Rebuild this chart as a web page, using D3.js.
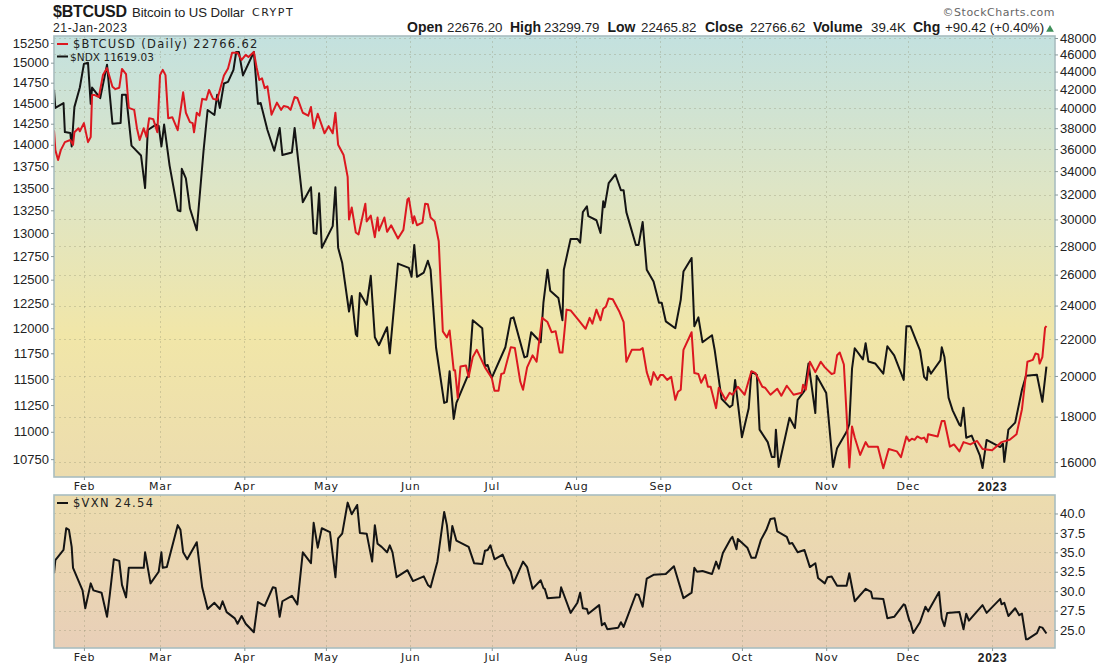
<!DOCTYPE html>
<html><head><meta charset="utf-8">
<script src="https://cdn.jsdelivr.net/npm/d3@7/dist/d3.min.js"></script>
<style>html,body{margin:0;padding:0;background:#fff}svg{display:block}</style>
</head><body>
<svg id="c" width="1105" height="671"></svg>
<script>
const startDate = "2022-01-21";
const monthTicks = ["2022-02-01","2022-03-01","2022-04-01","2022-05-01","2022-06-01","2022-07-01","2022-08-01","2022-09-01","2022-10-01","2022-11-01","2022-12-01","2023-01-01"];
const monthLabels = ["Feb","Mar","Apr","May","Jun","Jul","Aug","Sep","Oct","Nov","Dec","2023"];
const ndxTicks = [15250,15000,14750,14500,14250,14000,13750,13500,13250,13000,12750,12500,12250,12000,11750,11500,11250,11000,10750];
const btcTicks = [48000,46000,44000,42000,40000,38000,36000,34000,32000,30000,28000,26000,24000,22000,20000,18000,16000];
const vxnTicks = [40,37.5,35,32.5,30,27.5,25];

// days since 21 Jan 2022 and closing values
const ndxDay = [0,.5,3.5,4,6,6.5,7.5,9.5,11,12.5,13.5,14,17,19.5,21.5,24.5,25,26.5,28.5,32,33.5,34.5,37.5,38.5,39.5,40.5,42.5,45.5,46.5,47,48.5,50,52.5,55,56.5,59,60,61,62.5,64,66,67,68,69.5,73.5,75,76,78.5,81,83,84,87.5,88.5,91.5,94.5,95.5,96.5,97.5,98.5,102.5,103.5,104.5,106,108.5,109.5,111,111.5,112.5,115,116.5,118,119.5,122.5,123.5,126.5,130.5,131.5,132.5,133.5,136,137.5,138.5,140.5,143.5,144.5,145.5,147,148,152,152.5,154,157.5,158.5,159.5,161,166,168,169,173,174,175.5,179,180,181.5,182.5,185.5,187,187.5,190,192.5,193.5,194.5,196,196.5,199.5,201,202,202.5,204,206.5,208.5,209.5,210.5,214,215,216.5,218,220.5,222.5,223.5,225,228.5,230.5,231.5,234.5,235.5,237,238.5,242,243,245.5,248.5,249.5,250.5,253,255.5,256.5,258.5,259.5,262.5,264,265,265.5,266.5,270.5,272.5,273.5,276,277.5,280,280.5,284,284.5,286.5,288,291.5,292.5,293.5,294.5,297.5,298.5,299.5,302,305,306.5,309,312.5,313.5,315,318.5,320,321,321.5,322.5,326,326.5,327.5,329,330.5,333,333.5,334.5,335.5,337.5,340.5,341.5,343,348,349,349.5,351,353.5,356,357.5,361.5,363.5,365];
const ndxClose = [14662,14440,14500,14150,14140,13980,14450,14690,14985,15000,14490,14690,14560,14975,14250,14260,14600,14600,13990,13875,13500,14175,14240,14225,13980,14240,13760,13250,13240,13720,13610,13270,13030,13930,14415,14355,14600,14440,14740,14760,14910,15135,15135,14840,15135,14490,14500,14175,13930,14200,13880,13910,14200,13340,13510,13000,12990,13440,12840,13075,13510,12840,12675,12170,12330,11940,11920,12360,12240,12540,11910,11830,12010,11750,12670,12625,12530,12870,12530,12575,12700,12605,11810,11270,11280,11575,11120,11270,11520,11520,12080,12000,11625,11635,11510,11810,12100,12110,11710,11720,11960,11860,12260,12605,12385,12310,12080,12605,12935,12935,12895,13230,13295,13185,13140,13000,13350,13285,13555,13655,13475,13475,13230,12870,12870,13120,12605,12480,12260,12260,12070,12000,12290,12585,12730,12020,12110,11860,11930,11780,11310,11230,11250,11490,10950,11220,11570,11540,11020,10905,10770,10770,11020,10680,11130,11035,11300,11385,11650,11175,11530,11365,11230,10680,10850,11000,11070,11600,11800,11690,11850,11670,11650,11550,11820,11730,11490,12020,12020,11780,11520,11490,11615,11550,11680,11810,11710,11320,11200,11065,11055,11225,10945,10965,10785,10670,10925,10860,10890,10725,11020,11085,11395,11530,11540,11280,11619.03];

const btcDay = [0,.5,1.5,2.5,4,6,7,7.5,9,9.5,11,12.5,13.5,14,15,16.5,18,19.5,21.5,22.5,24,25,26.5,27.5,29.5,30.5,31.5,33,34,35,36.5,38,39,40,41,42,43.5,45.5,47.5,48.5,50,51,51.5,52.5,53.5,54.5,56,57,58.5,60,61,62.5,64,65.5,67.5,69,70.5,71.5,73.5,74.5,75.5,76.5,77.5,78.5,80,82,83.5,84.5,86,87,88.5,89.5,91.5,93.5,94.5,95.5,97,99.5,101,102.5,103.5,104.5,106.5,108,108.5,109.5,111,112,114.5,115,116.5,118,119,119.5,121.5,122.5,124,126.5,128.5,130,130.5,132,132.5,133.5,135.5,136.5,137.5,138.5,140,141.5,143,144.5,145.5,147,147.5,148.5,149.5,151.5,152.5,154,155.5,158.5,161,162,163.5,164.5,165.5,168,169.5,171.5,172.5,174,176,177.5,179.5,181.5,183,184.5,186,187,188.5,190,193,195.5,197,198,199.5,201,202,203,204,205.5,208,209.5,210.5,212.5,215.5,216.5,218,219.5,220.5,222,223,224,225.5,227,228.5,229.5,230.5,231.5,234.5,235.5,237,238,239.5,240.5,241.5,243.5,244.5,247,248.5,249.5,251.5,254,256.5,258,260.5,261.5,263.5,266,267.5,269.5,272,275,275.5,276.5,278,280,282,283.5,286,287,288,289,290.5,291.5,292.5,293.5,294.5,296.5,298.5,299.5,303,305,307,310,311.5,313.5,314.5,315.5,316.5,317.5,319,320,321,321.5,325,326.5,327.5,329.5,331,333,334.5,337,339.5,341.5,345,348.5,351.5,354,356,358,360,361,362,362.5,363.5,364.5,365];
const btcClose = [37800,35900,35000,35900,36650,36850,36400,37600,38000,37700,38500,36650,37150,41400,41400,41200,43600,44400,42300,42050,42200,44300,43700,40050,39850,38000,36850,38000,37150,39000,38900,37600,43600,44200,43600,39000,39100,37800,41700,39550,38600,38500,37600,39550,39250,41000,40900,41950,41000,40900,41950,43550,44350,46200,46200,45350,45950,45700,46300,44500,43050,43250,42150,42350,39350,40600,39850,40250,40150,39850,41200,41100,39550,39250,40150,38000,39450,37500,38200,37500,39550,36400,35450,33500,30000,30950,29000,28850,31250,29850,30300,28650,30150,29150,30150,29050,29550,28550,29200,31600,31700,29700,30250,29550,29750,31250,31200,30150,29850,28350,22450,22100,22500,20300,20300,18900,20500,20550,19950,21000,21400,20450,19900,19250,19250,20100,20150,21550,21500,19700,19300,20450,21100,20750,23250,23000,22400,22450,21250,21250,23750,23700,23100,22600,23250,22900,23750,23100,23800,23950,24450,24400,23600,23000,20750,21400,21400,21500,20200,19550,20200,19800,20050,20050,19800,19950,18800,19200,19300,21400,22400,20150,20100,19650,20050,19450,19450,18400,19400,18800,19150,19050,19450,19050,20250,20150,19450,19400,19050,19350,19000,19500,19050,19150,19550,19300,20750,20200,20750,20450,20100,20150,21100,21250,20600,18100,15780,17550,17050,16300,16850,16650,16650,15750,16550,16450,16200,17100,16900,17000,16950,17100,17000,17050,16850,17200,17100,17800,17800,16650,16750,16450,16850,16750,16900,16550,16500,16850,16950,17200,18350,20750,20850,21200,21150,20650,21000,22650,22766.62];

const vxnDay = [0,.5,3.5,4.5,5.5,6.5,7,10.5,11.5,13.5,14.5,17.5,19.5,20.5,22,24,25,26.5,27.5,33,33.5,35.5,38.5,39.5,40,41.5,45.5,46.5,47.5,49,52.5,54.5,56.5,59,61,62,63.5,66.5,67.5,69,70.5,73.5,75,77.5,80.5,81.5,83,84,87.5,89.5,91.5,94.5,95.5,97,98.5,101.5,103.5,104.5,106,108,109.5,111.5,112.5,115,117,118,119,120.5,122.5,123.5,124.5,126,130,132,136,137.5,138.5,141,143.5,144.5,145.5,146.5,148,152.5,154.5,157.5,158.5,159.5,160.5,162,165,166.5,168,169,172.5,174,176,179,180,180.5,181.5,186,186.5,190,192.5,193.5,194.5,196,196.5,200.5,201.5,202.5,203.5,207.5,208.5,209.5,214,215,216.5,218,220.5,225,228,231.5,234.5,235.5,236.5,238.5,242,243.5,244.5,246,249,249.5,251,251.5,255,256.5,258,260,262,263.5,265,266,269.5,270.5,271.5,273.5,276,278,280,281,283.5,284.5,286,288,291.5,292.5,294.5,298.5,300.5,301,305,306.5,309,312.5,313,314.5,315,316,318.5,320.5,321.5,325.5,326.5,327.5,328.5,333,334.5,335.5,336.5,341.5,343,348,348.5,349.5,351,353.5,355,356,357.5,358,361.5,362.5,363.5,365];
const vxnClose = [32.3,34.0,35.3,38.1,37.9,35.7,33.0,30.1,27.8,31.0,30.1,29.8,26.7,29.5,34.1,33.9,30.8,29.2,33.0,33.0,35.0,31.0,32.5,35.0,33.0,33.1,38.5,37.9,35.0,34.1,36.3,30.5,27.7,28.5,27.7,28.7,27.3,26.5,25.8,26.8,25.8,24.7,28.6,28.1,30.5,30.4,26.7,28.7,29.4,28.3,35.0,33.6,38.8,35.6,38.1,37.6,31.8,36.8,37.4,41.4,39.9,41.1,37.5,37.4,33.8,38.5,36.1,35.7,35.0,35.9,35.0,31.8,32.7,31.3,31.9,30.8,30.5,33.8,40.2,38.5,35.2,38.4,36.5,35.7,33.6,33.5,35.2,35.3,35.9,34.1,34.7,33.4,32.5,31.0,33.8,33.1,30.3,31.4,30.4,30.3,29.1,29.2,30.5,27.2,28.5,29.8,27.8,27.7,27.1,28.2,25.6,25.9,25.1,25.3,26.0,25.4,29.6,29.5,28.0,31.6,32.1,32.2,33.2,29.1,29.8,33.0,32.5,32.6,32.2,33.8,32.9,34.9,36.8,37.0,35.4,36.7,35.6,34.3,34.3,36.6,37.9,39.3,39.4,37.7,37.0,36.1,36.2,35.0,35.3,33.1,33.6,31.7,31.0,31.8,31.9,30.7,30.7,32.3,28.7,30.3,29.9,29.1,29.0,26.5,26.7,28.3,28.2,26.3,26.0,24.6,26.0,28.0,27.4,29.9,26.5,25.5,27.2,27.3,25.1,27.1,26.2,28.2,27.2,29.0,28.3,28.5,26.8,27.8,26.9,27.1,23.8,23.8,24.6,25.4,25.3,24.54];

const titleSym = "$BTCUSD", titleName = "Bitcoin to US Dollar", titleExch = "CRYPT", chartDate = "21-Jan-2023";
const quoteKeys = ["Open","High","Low","Close","Volume","Chg"];
const quoteVals = ["22676.20","23299.79","22465.82","22766.62","39.4K","+90.42 (+0.40%)"];

const svg = d3.select("#c");
const L = 54, R = 1055, T1 = 36, B1 = 477, T2 = 495, B2 = 648;
const sans = "'Liberation Sans',Arial,sans-serif", dj = "'DejaVu Sans',Verdana,sans-serif";
const t0 = d3.isoParse(startDate + "T00:00:00Z");
const toDate = d => new Date(+t0 + d * 864e5);

const x = d3.scaleUtc().domain([t0, toDate(368.15)]).range([L, R]);
const yNdx = d3.scaleLog().domain([10590, 15340]).range([B1, T1]);
const yBtc = d3.scaleLog().domain([15394, 48250]).range([B1, T1]);
const yVxn = d3.scaleLinear().domain([22.68, 42.38]).range([B2, T2]);

const defs = svg.append("defs");
const grad = (id, stops) => {
  const g = defs.append("linearGradient").attr("id", id).attr("x1", 0).attr("x2", 0).attr("y1", 0).attr("y2", 1);
  stops.forEach(([o, c]) => g.append("stop").attr("offset", o).attr("stop-color", c));
};
grad("g1", [[0, "#c3e1df"], [.35, "#dee5c5"], [.68, "#f1e6a8"], [1, "#ecdcae"]]);
grad("g2", [[0, "#ecdcae"], [1, "#e8cfb8"]]);
[["c1", T1, B1], ["c2", T2, B2]].forEach(([id, a, b]) =>
  defs.append("clipPath").attr("id", id).append("rect").attr("x", L).attr("y", a).attr("width", R - L).attr("height", b - a));

const panel = (top, bot, fill) => svg.append("rect").attr("x", L).attr("y", top).attr("width", R - L).attr("height", bot - top)
  .attr("fill", `url(#${fill})`);
panel(T1, B1, "g1"); panel(T2, B2, "g2");

const monthDates = monthTicks.map(s => d3.isoParse(s + "T00:00:00Z"));
const gridStyle = g => g.attr("stroke", "#8f8f70").attr("stroke-opacity", .33).attr("stroke-width", 1).attr("stroke-dasharray", "2 3").attr("fill", "none");

const drawGrid = (top, bot, scale, vals) => {
  const g = svg.append("g").call(gridStyle);
  g.selectAll(".h").data(vals).join("line").attr("x1", L).attr("x2", R)
    .attr("y1", d => Math.round(scale(d)) + .5).attr("y2", d => Math.round(scale(d)) + .5);
  g.selectAll(".v").data(monthDates).join("line").attr("y1", top).attr("y2", bot)
    .attr("x1", d => Math.round(x(d)) + .5).attr("x2", d => Math.round(x(d)) + .5);
};
drawGrid(T1, B1, yBtc, btcTicks);
drawGrid(T2, B2, yVxn, vxnTicks);

const pathOf = (days, vals, yS) => d3.line().x((d, i) => x(toDate(d))).y((d, i) => yS(vals[i]))(days);
const drawLine = (days, vals, yS, color, clip, w) => svg.append("path").attr("d", pathOf(days, vals, yS))
  .attr("fill", "none").attr("stroke", color).attr("stroke-width", w).attr("stroke-linejoin", "round")
  .attr("clip-path", `url(#${clip})`);
drawLine(ndxDay, ndxClose, yNdx, "#141414", "c1", 2);
drawLine(btcDay, btcClose, yBtc, "#dc1820", "c1", 2);
drawLine(vxnDay, vxnClose, yVxn, "#141414", "c2", 2);

[[T1, B1], [T2, B2]].forEach(([a, b]) => svg.append("rect").attr("x", L).attr("y", a).attr("width", R - L).attr("height", b - a)
  .attr("fill", "none").attr("stroke", "#a9bdc0").attr("stroke-width", 1.6));

const styleAxis = (g, size, font, tcolor) => {
  g.select(".domain").remove();
  g.selectAll(".tick line").attr("stroke", "#8a9a9c");
  g.selectAll("text").attr("font-family", font).attr("font-size", size).attr("fill", tcolor || "#222");
};
svg.append("g").attr("transform", `translate(${L},0)`)
  .call(d3.axisLeft(yNdx).tickValues(ndxTicks).tickFormat(d3.format("d")).tickSize(3).tickPadding(2))
  .call(g => styleAxis(g, 13, sans));
svg.append("g").attr("transform", `translate(${R},0)`)
  .call(d3.axisRight(yBtc).tickValues(btcTicks).tickFormat(d3.format("d")).tickSize(3).tickPadding(2))
  .call(g => styleAxis(g, 13, sans));
svg.append("g").attr("transform", `translate(${R},0)`)
  .call(d3.axisRight(yVxn).tickValues(vxnTicks).tickFormat(d3.format(".1f")).tickSize(3).tickPadding(2))
  .call(g => styleAxis(g, 13, sans));

const monthAxis = yPos => svg.append("g").attr("transform", `translate(0,${yPos})`)
  .call(d3.axisBottom(x).tickValues(monthDates).tickFormat((d, i) => monthLabels[i]).tickSize(3).tickPadding(2))
  .call(g => {
    styleAxis(g, 11, dj, "#222");
    g.selectAll("text").attr("letter-spacing", ".7px")
      .attr("font-weight", (d, i) => monthLabels[i] === "2023" ? "bold" : null)
      .attr("font-size", (d, i) => monthLabels[i] === "2023" ? 12 : 11)
      .attr("font-family", (d, i) => monthLabels[i] === "2023" ? sans : dj);
  });
monthAxis(B1); monthAxis(B2);

const text = (px, py, s, o = {}) => svg.append("text").attr("x", px).attr("y", py).text(s)
  .attr("font-family", o.font || sans).attr("font-size", o.size || 13).attr("fill", o.fill || "#222")
  .attr("font-weight", o.weight || null).attr("letter-spacing", o.ls || null).attr("text-anchor", o.anchor || null);

text(53, 17, titleSym, {size: 16, weight: "bold", fill: "#1a1a1a", ls: "-.25px"});
text(132, 16.5, titleName, {size: 13.2, ls: "-.1px"});
text(252, 16, titleExch, {size: 11, font: dj, ls: "1.5px"});
text(53, 32, chartDate, {size: 12.2, ls: ".55px"});

// quote line: each label and value placed where the reference has it
const keyX = [407, 510, 607.5, 705, 813, 913], valX = [447, 544, 641, 750, 871, 945];
quoteKeys.forEach((k, i) => {
  text(keyX[i], 32, k, {size: 14, weight: "bold", fill: "#1a1a1a"});
  text(valX[i], 32, quoteVals[i], {size: 13.3});
});
svg.append("path").attr("d", d3.symbol(d3.symbolTriangle, 26)()).attr("transform", "translate(1050,29.5)").attr("fill", "#3f8f5a");

text(1055, 16, "©StockCharts.com", {anchor: "end", size: 11, font: dj, fill: "#666", ls: ".5px"});

const legend = (sy, color, s, o) => {
  svg.append("line").attr("x1", 57).attr("x2", 68).attr("y1", sy).attr("y2", sy).attr("stroke", color).attr("stroke-width", 2);
  text(o.x, sy + 4, s, o);
};
legend(44, "#dc1820", `$BTCUSD (Daily) ${btcClose.at(-1).toFixed(2)}`, {x: 73, font: dj, size: 11.5, ls: "1.3px"});
legend(56.5, "#141414", `$NDX ${ndxClose.at(-1).toFixed(2)}`, {x: 70, font: dj, size: 10.5, ls: ".05px"});
legend(503, "#141414", `$VXN ${vxnClose.at(-1).toFixed(2)}`, {x: 73, font: dj, size: 11.5, ls: "1.3px"});
</script>
</body></html>
